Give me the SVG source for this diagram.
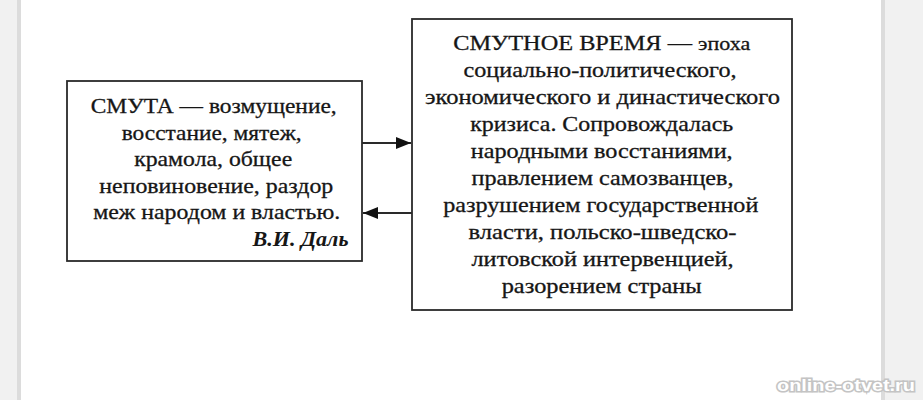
<svg xmlns="http://www.w3.org/2000/svg" width="923" height="400" viewBox="0 0 923 400">
  <style>
    .box { fill: #ffffff; stroke: #2a2a2a; stroke-width: 1.8; }
    .t { font-family: "Liberation Serif", "Times New Roman", serif; font-size: 21px; fill: #161616; stroke: #161616; stroke-width: 0.3; text-anchor: middle; }
    .it { font-style: italic; font-weight: bold; text-anchor: end; stroke-width: 0; }
    .conn { stroke: #2a2a2a; stroke-width: 1.8; fill: none; }
    .wm { font-family: "Liberation Sans", Arial, sans-serif; font-weight: bold; font-size: 17px; fill: #ffffff; stroke: #c4c4c4; stroke-width: 3; paint-order: stroke; }
  </style>
  <defs>
    <marker id="ah" viewBox="0 0 15 12" refX="15" refY="6" markerWidth="15" markerHeight="12" markerUnits="userSpaceOnUse" orient="auto">
      <path d="M0,0 L15,6 L0,12 Z" fill="#111"/>
    </marker>
  </defs>
  <rect x="0" y="0" width="923" height="400" fill="#f1f1f1"/>
  <rect x="17" y="0" width="4" height="400" fill="#dcdcdc"/>
  <rect x="881" y="0" width="4" height="400" fill="#dcdcdc"/>
  <rect x="21" y="0" width="860" height="400" fill="#ffffff"/>

  <g id="smuta">
    <rect class="box" x="67" y="81" width="295" height="180"/>
    <text class="t" x="213.7" y="113" textLength="246" lengthAdjust="spacingAndGlyphs">СМУТА — возмущение,</text>
    <text class="t" x="211.7" y="139.5" textLength="180" lengthAdjust="spacingAndGlyphs">восстание, мятеж,</text>
    <text class="t" x="213.2" y="166" textLength="158" lengthAdjust="spacingAndGlyphs">крамола, общее</text>
    <text class="t" x="216.3" y="192.5" textLength="234" lengthAdjust="spacingAndGlyphs">неповиновение, раздор</text>
    <text class="t" x="216.7" y="219" textLength="247" lengthAdjust="spacingAndGlyphs">меж народом и властью.</text>
    <text class="t it" x="348.5" y="246" textLength="96" lengthAdjust="spacingAndGlyphs">В.И. Даль</text>
  </g>

  <g id="smutnoe-vremya">
    <rect class="box" x="412" y="19" width="380" height="291"/>
    <text class="t" x="601.7" y="50" textLength="297" lengthAdjust="spacingAndGlyphs">СМУТНОЕ ВРЕМЯ — <tspan font-size="19">эпоха</tspan></text>
    <text class="t" x="600" y="77" textLength="273" lengthAdjust="spacingAndGlyphs">социально-политического,</text>
    <text class="t" x="602.5" y="104" textLength="355" lengthAdjust="spacingAndGlyphs">экономического и династического</text>
    <text class="t" x="601.7" y="131" textLength="263" lengthAdjust="spacingAndGlyphs">кризиса. Сопровождалась</text>
    <text class="t" x="601.7" y="158" textLength="262" lengthAdjust="spacingAndGlyphs">народными восстаниями,</text>
    <text class="t" x="602.5" y="185" textLength="262" lengthAdjust="spacingAndGlyphs">правлением самозванцев,</text>
    <text class="t" x="600.8" y="212" textLength="315" lengthAdjust="spacingAndGlyphs">разрушением государственной</text>
    <text class="t" x="602.5" y="239" textLength="268" lengthAdjust="spacingAndGlyphs">власти, польско-шведско-</text>
    <text class="t" x="602.5" y="266" textLength="262" lengthAdjust="spacingAndGlyphs">литовской интервенцией,</text>
    <text class="t" x="601.7" y="293" textLength="200" lengthAdjust="spacingAndGlyphs">разорением страны</text>
  </g>

  <g id="connectors">
    <line class="conn" x1="362" y1="143" x2="411" y2="143" marker-end="url(#ah)"/>
    <line class="conn" x1="412" y1="213" x2="363" y2="213" marker-end="url(#ah)"/>
  </g>

  <text class="wm" x="777" y="391" textLength="138" lengthAdjust="spacingAndGlyphs">online-otvet.ru</text>
</svg>
